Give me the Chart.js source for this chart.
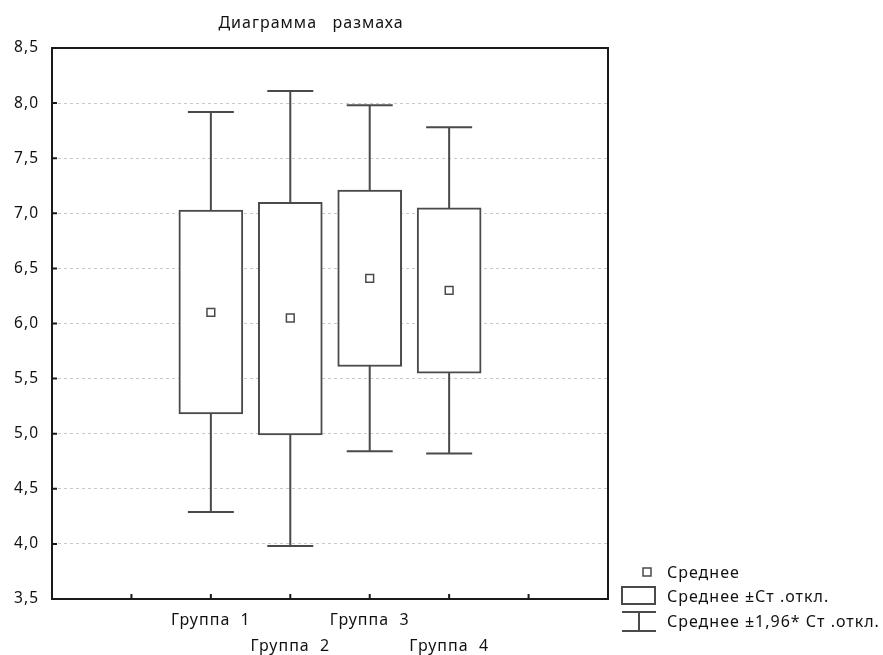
<!DOCTYPE html>
<html>
<head>
<meta charset="utf-8">
<script src="https://cdn.jsdelivr.net/npm/chart.js@4.4.0/dist/chart.umd.min.js"></script>
<style>
  html, body { margin: 0; padding: 0; background: #fff; }
  #wrap { width: 883px; height: 655px; }
</style>
</head>
<body>
<div id="wrap"><canvas id="grafico" width="883" height="655"></canvas></div>
<script>
// данные диаграммы размаха
const categorias = ['Группа  1', 'Группа  2', 'Группа  3', 'Группа  4'];
const posicoes = [2, 3, 4, 5];
const medias = [6.10, 6.05, 6.41, 6.30];
const sdBaixo = [5.18, 4.99, 5.61, 5.55];
const sdAlto = [7.03, 7.10, 7.21, 7.05];
const ciBaixo = [4.29, 3.98, 4.84, 4.82];
const ciAlto = [7.92, 8.11, 7.98, 7.78];
const titulo = 'Диаграмма   размаха';
const legendaTextos = ['Среднее', 'Среднее ±Ст .откл.', 'Среднее ±1,96* Ст .откл.'];

const corLinha = '#4a4a4a';
const fonte = "'Noto Sans', sans-serif";

const desenhoExtra = {
  id: 'desenhoExtra',
  beforeDraw(chart) {
    // espaçamento de letras nos rótulos dos eixos
    chart.ctx.letterSpacing = '1px';
  },
  beforeDatasetsDraw(chart) {
    const ctx = chart.ctx;
    ctx.letterSpacing = '0px';
    const xs = chart.scales.x, ys = chart.scales.y;
    ctx.save();
    ctx.strokeStyle = corLinha;
    ctx.lineWidth = 2;
    posicoes.forEach((p, i) => {
      const x = xs.getPixelForValue(p);
      const yTop = ys.getPixelForValue(ciAlto[i]);
      const yBot = ys.getPixelForValue(ciBaixo[i]);
      ctx.beginPath();
      ctx.moveTo(x, yTop); ctx.lineTo(x, yBot);
      ctx.moveTo(x - 23, yTop); ctx.lineTo(x + 23, yTop);
      ctx.moveTo(x - 23, yBot); ctx.lineTo(x + 23, yBot);
      ctx.stroke();
    });
    ctx.restore();
  },
  afterDraw(chart) {
    const ctx = chart.ctx;
    const a = chart.chartArea;
    const xs = chart.scales.x, ys = chart.scales.y;
    ctx.save();
    // moldura
    ctx.strokeStyle = '#1a1a1a';
    ctx.lineWidth = 2;
    ctx.strokeRect(a.left, a.top, a.right - a.left, a.bottom - a.top);
    // ticks para dentro
    ctx.beginPath();
    ys.ticks.forEach(t => {
      const y = ys.getPixelForValue(t.value);
      ctx.moveTo(a.left, y); ctx.lineTo(a.left + 5, y);
    });
    xs.ticks.forEach(t => {
      const x = xs.getPixelForValue(t.value);
      ctx.moveTo(x, a.bottom); ctx.lineTo(x, a.bottom - 5);
    });
    ctx.stroke();

    // título
    ctx.letterSpacing = '1px';
    ctx.fillStyle = '#111';
    ctx.font = '16px ' + fonte;
    ctx.textAlign = 'center';
    ctx.textBaseline = 'middle';
    ctx.fillText(titulo, 311, 23);

    // legenda
    ctx.strokeStyle = corLinha;
    ctx.lineWidth = 1.5;
    ctx.fillStyle = '#fff';
    ctx.fillRect(643, 568, 8, 8);
    ctx.strokeRect(643, 568, 8, 8);
    ctx.lineWidth = 2;
    ctx.strokeRect(622, 587, 33, 17);
    ctx.beginPath();
    ctx.moveTo(622, 612); ctx.lineTo(656, 612);
    ctx.moveTo(622, 631); ctx.lineTo(656, 631);
    ctx.moveTo(639, 612); ctx.lineTo(639, 631);
    ctx.stroke();
    ctx.fillStyle = '#111';
    ctx.font = '16px ' + fonte;
    ctx.textAlign = 'left';
    ctx.fillText(legendaTextos[0], 667, 573);
    ctx.fillText(legendaTextos[1], 667, 597);
    ctx.fillText(legendaTextos[2], 667, 622);
    ctx.restore();
  }
};

const ctx = document.getElementById('grafico').getContext('2d');
window.grafico = new Chart(ctx, {
  type: 'bar',
  data: {
    datasets: [
      {
        type: 'bar',
        data: posicoes.map((p, i) => ({ x: p, y: [sdBaixo[i], sdAlto[i]] })),
        backgroundColor: '#ffffff',
        borderColor: corLinha,
        borderWidth: 2,
        borderSkipped: false,
        barThickness: 64,
        order: 2
      },
      {
        type: 'scatter',
        data: posicoes.map((p, i) => ({ x: p, y: medias[i] })),
        pointStyle: 'rect',
        radius: 5.5,
        borderWidth: 1.5,
        borderColor: corLinha,
        backgroundColor: '#ffffff',
        order: 1
      }
    ]
  },
  options: {
    responsive: false,
    animation: false,
    layout: { padding: { top: 48, right: 275, left: 0, bottom: 0 } },
    plugins: { legend: { display: false }, title: { display: false }, tooltip: { enabled: false } },
    scales: {
      x: {
        type: 'linear',
        min: 0, max: 7,
        offset: false,
        afterFit(s) { s.height = 56; },
        grid: { display: false, drawTicks: false },
        border: { display: false },
        ticks: {
          stepSize: 1,
          autoSkip: false,
          maxRotation: 0,
          padding: 8,
          color: '#111',
          font: { family: fonte, size: 16, lineHeight: 1.66 },
          callback(v) {
            const i = posicoes.indexOf(v);
            if (i < 0) return '';
            return i % 2 === 0 ? categorias[i] : ['', categorias[i]];
          }
        }
      },
      y: {
        min: 3.5, max: 8.5,
        afterFit(s) { s.width = 52; },
        grid: { color: '#c8c8c8', lineWidth: 1, drawTicks: false },
        border: { display: false, dash: [3, 3] },
        ticks: {
          stepSize: 0.5,
          padding: 13,
          color: '#111',
          font: { family: fonte, size: 15.5 },
          callback: v => v.toFixed(1).replace('.', ',')
        }
      }
    }
  },
  plugins: [desenhoExtra]
});
</script>
</body>
</html>
